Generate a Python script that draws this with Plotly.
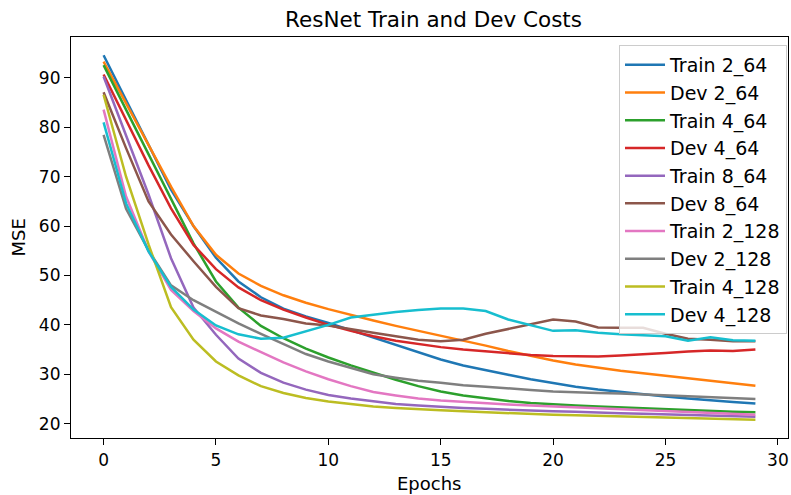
import plotly.graph_objects as go

epochs = list(range(30))

train_2_64 = [94.6, 85.5, 76.4, 67.4, 60.0, 53.6, 48.8, 45.6, 43.3, 41.7, 40.4, 38.9, 37.4, 35.9, 34.4,
              33.0, 31.8, 30.8, 29.9, 29.0, 28.2, 27.5, 26.9, 26.4, 25.9, 25.5, 25.1, 24.7, 24.4, 24.1]
dev_2_64 = [93.3, 84.8, 76.2, 68.0, 60.0, 54.2, 50.4, 47.9, 46.0, 44.5, 43.2, 42.0, 40.9, 39.8, 38.8,
            37.9, 36.8, 35.8, 34.7, 33.7, 32.8, 32.0, 31.3, 30.7, 30.2, 29.7, 29.2, 28.7, 28.2, 27.7]
train_4_64 = [92.6, 83.5, 74.4, 65.3, 56.5, 48.8, 43.5, 39.8, 37.3, 35.2, 33.4, 31.8, 30.3, 28.9, 27.6,
              26.5, 25.7, 25.1, 24.6, 24.2, 23.9, 23.7, 23.5, 23.3, 23.2, 23.0, 22.8, 22.6, 22.4, 22.3]
dev_4_64 = [90.7, 81.4, 72.3, 63.6, 56.2, 51.3, 47.6, 45.0, 43.1, 41.5, 40.0, 38.8, 37.7, 36.8, 36.1,
            35.5, 35.0, 34.6, 34.2, 33.9, 33.7, 33.6, 33.6, 33.8, 34.0, 34.3, 34.6, 34.8, 34.7, 35.0]
train_8_64 = [90.3, 78.5, 66.4, 53.5, 43.5, 38.0, 33.2, 30.3, 28.3, 26.9, 25.8, 25.1, 24.5, 24.0, 23.7,
              23.4, 23.2, 23.0, 22.8, 22.7, 22.5, 22.4, 22.2, 22.1, 22.0, 21.9, 21.8, 21.6, 21.5, 21.4]
dev_8_64 = [87.1, 75.8, 65.0, 58.3, 52.9, 47.7, 43.4, 41.9, 41.2, 40.3, 39.9, 39.1, 38.4, 37.7, 37.0,
            36.7, 37.0, 38.2, 39.2, 40.2, 41.1, 40.7, 39.5, 39.4, 39.4, 38.2, 37.2, 37.0, 36.7, 36.7]
train_2_128 = [83.6, 66.0, 54.9, 47.1, 42.8, 39.3, 36.6, 34.5, 32.4, 30.6, 29.0, 27.6, 26.4, 25.7, 25.1,
               24.7, 24.4, 24.2, 23.9, 23.7, 23.5, 23.3, 23.1, 22.9, 22.7, 22.5, 22.3, 22.1, 21.9, 21.8]
dev_2_128 = [78.5, 63.5, 55.1, 48.0, 45.0, 42.6, 40.3, 38.2, 36.1, 34.1, 32.6, 31.3, 30.0, 29.3, 28.7,
             28.3, 27.8, 27.5, 27.1, 26.8, 26.5, 26.3, 26.2, 26.1, 25.9, 25.8, 25.6, 25.4, 25.2, 25.0]
train_4_128 = [86.6, 70.0, 56.3, 43.6, 37.0, 32.6, 29.8, 27.6, 26.2, 25.2, 24.5, 24.0, 23.5, 23.2, 22.9,
               22.7, 22.5, 22.3, 22.1, 22.0, 21.8, 21.7, 21.6, 21.5, 21.4, 21.3, 21.1, 21.0, 20.9, 20.8]
dev_4_128 = [81.0, 64.6, 54.9, 47.7, 43.1, 39.9, 38.1, 37.2, 37.4, 38.7, 40.0, 41.5, 42.1, 42.6, 43.0,
             43.3, 43.3, 42.8, 41.1, 39.9, 38.8, 38.9, 38.4, 38.1, 37.9, 37.7, 36.8, 37.5, 36.9, 36.8]

series_names = ["Train 2_64", "Dev 2_64", "Train 4_64", "Dev 4_64", "Train 8_64",
                "Dev 8_64", "Train 2_128", "Dev 2_128", "Train 4_128", "Dev 4_128"]
series_values = [train_2_64, dev_2_64, train_4_64, dev_4_64, train_8_64,
                 dev_8_64, train_2_128, dev_2_128, train_4_128, dev_4_128]
colors = ["#1f77b4", "#ff7f0e", "#2ca02c", "#d62728", "#9467bd",
          "#8c564b", "#e377c2", "#7f7f7f", "#bcbd22", "#17becf"]

x_ticks = [0, 5, 10, 15, 20, 25, 30]
y_ticks = [20, 30, 40, 50, 60, 70, 80, 90]

FONT = "DejaVu Sans"
W, H = 791, 495
L, R, T, B = 71, 3, 37, 57

fig = go.Figure()
for name, vals, col in zip(series_names, series_values, colors):
    fig.add_trace(go.Scatter(x=epochs, y=vals, mode="lines", name=name,
                             line=dict(color=col, width=2.5)))

fig.update_layout(
    width=W, height=H,
    margin=dict(l=L, r=R, t=T, b=B, autoexpand=False),
    paper_bgcolor="white", plot_bgcolor="white",
    font=dict(family=FONT, size=17, color="black"),
    title=dict(text="ResNet Train and Dev Costs", x=433.5 / W, xanchor="center", xref="container",
               y=1 - 19 / H, yanchor="middle", yref="container", automargin=False,
               font=dict(family=FONT, size=21.5, color="black")),
    showlegend=True,
    legend=dict(x=(787 - L) / (W - L - R), y=(H - B - 45) / (H - T - B), xanchor="right", yanchor="top",
                bgcolor="rgba(255,255,255,0.8)", bordercolor="#cccccc", borderwidth=1,
                font=dict(family=FONT, size=19, color="black"),
                itemwidth=40, traceorder="normal"),
    annotations=[
        dict(text="Epochs", xref="paper", yref="paper", x=(429.7 - L) / (W - L - R),
             y=-(483 - (H - B)) / (H - T - B), xanchor="center", yanchor="middle",
             showarrow=False, font=dict(family=FONT, size=18, color="black")),
        dict(text="MSE", xref="paper", yref="paper", x=-(L - 18) / (W - L - R),
             y=0.5, xanchor="center", yanchor="middle", textangle=-90,
             showarrow=False, font=dict(family=FONT, size=18, color="black")),
    ],
)
fig.update_xaxes(range=[-1.45, 30.45], tickvals=x_ticks, ticks="outside", ticklen=6,
                 tickcolor="black", tickwidth=1.2, showline=True, linecolor="black", linewidth=1.2,
                 mirror=True, showgrid=False, zeroline=False, automargin=False)
fig.update_yaxes(range=[17.1, 98.3], tickvals=y_ticks, ticks="outside", ticklen=6,
                 tickcolor="black", tickwidth=1.2, showline=True, linecolor="black", linewidth=1.2,
                 mirror=True, showgrid=False, zeroline=False, automargin=False)

fig.write_html("out.html", config={"responsive": False, "displayModeBar": False},
               post_script="document.body.style.margin='0';document.body.style.overflow='hidden';")
